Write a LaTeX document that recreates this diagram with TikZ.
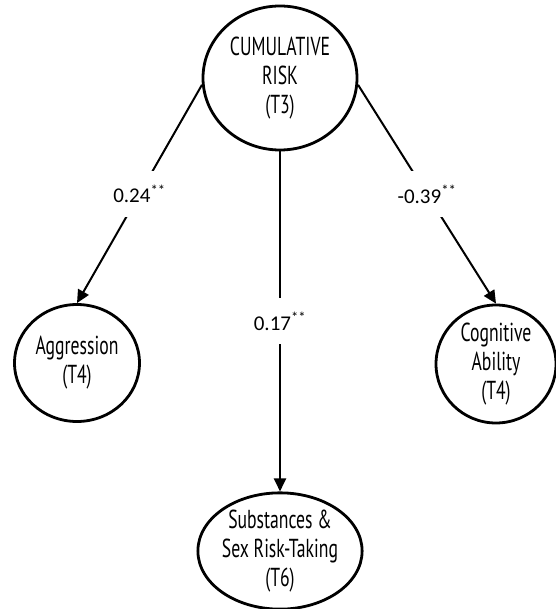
\documentclass[tikz,border=0pt]{standalone}
\usepackage{fontspec}
\setmainfont{Carlito}
\newfontfamily\condfont[FakeStretch=0.68]{PT Sans}
\usetikzlibrary{arrows.meta,shapes.geometric}

\begin{document}
\begin{tikzpicture}[x=1pt,y=-1pt,
  var/.style={draw, ellipse, line width=2.8pt, inner sep=0pt, align=center,
    font=\condfont\fontsize{26}{29}\selectfont},
  path/.style={line width=2pt, -{Triangle[length=13pt,width=12pt]}},
  coef/.style={fill=white, inner xsep=3pt, inner ysep=14pt,
    font=\fontsize{21}{24}\selectfont}
]
\useasboundingbox (0,0) rectangle (555,609);

% latent predictor and outcomes
\node[var, minimum width=154pt, minimum height=144pt] (risk) at (280,78)
  {CUMULATIVE\\RISK\\(T3)};
\node[var, minimum width=125pt, minimum height=117pt] (aggr) at (77,363)
  {Aggression\\(T4)};
\node[var, minimum width=120pt, minimum height=118pt] (cog) at (496,364)
  {Cognitive\\Ability\\(T4)};
\node[var, minimum width=121pt, minimum height=116pt] (subst) at (280,551)
  {Substances \&\\Sex Risk-Taking\\(T6)};

% standardized path coefficients
\draw[path] (risk.185) -- node[coef] {0.24\textsuperscript{**}} (aggr.north);
\draw[path] (risk.south) -- node[coef] {0.17\textsuperscript{**}} (subst.north);
\draw[path] (risk.355) -- node[coef] {-0.39\textsuperscript{**}} (cog.north);
\end{tikzpicture}
\end{document}
